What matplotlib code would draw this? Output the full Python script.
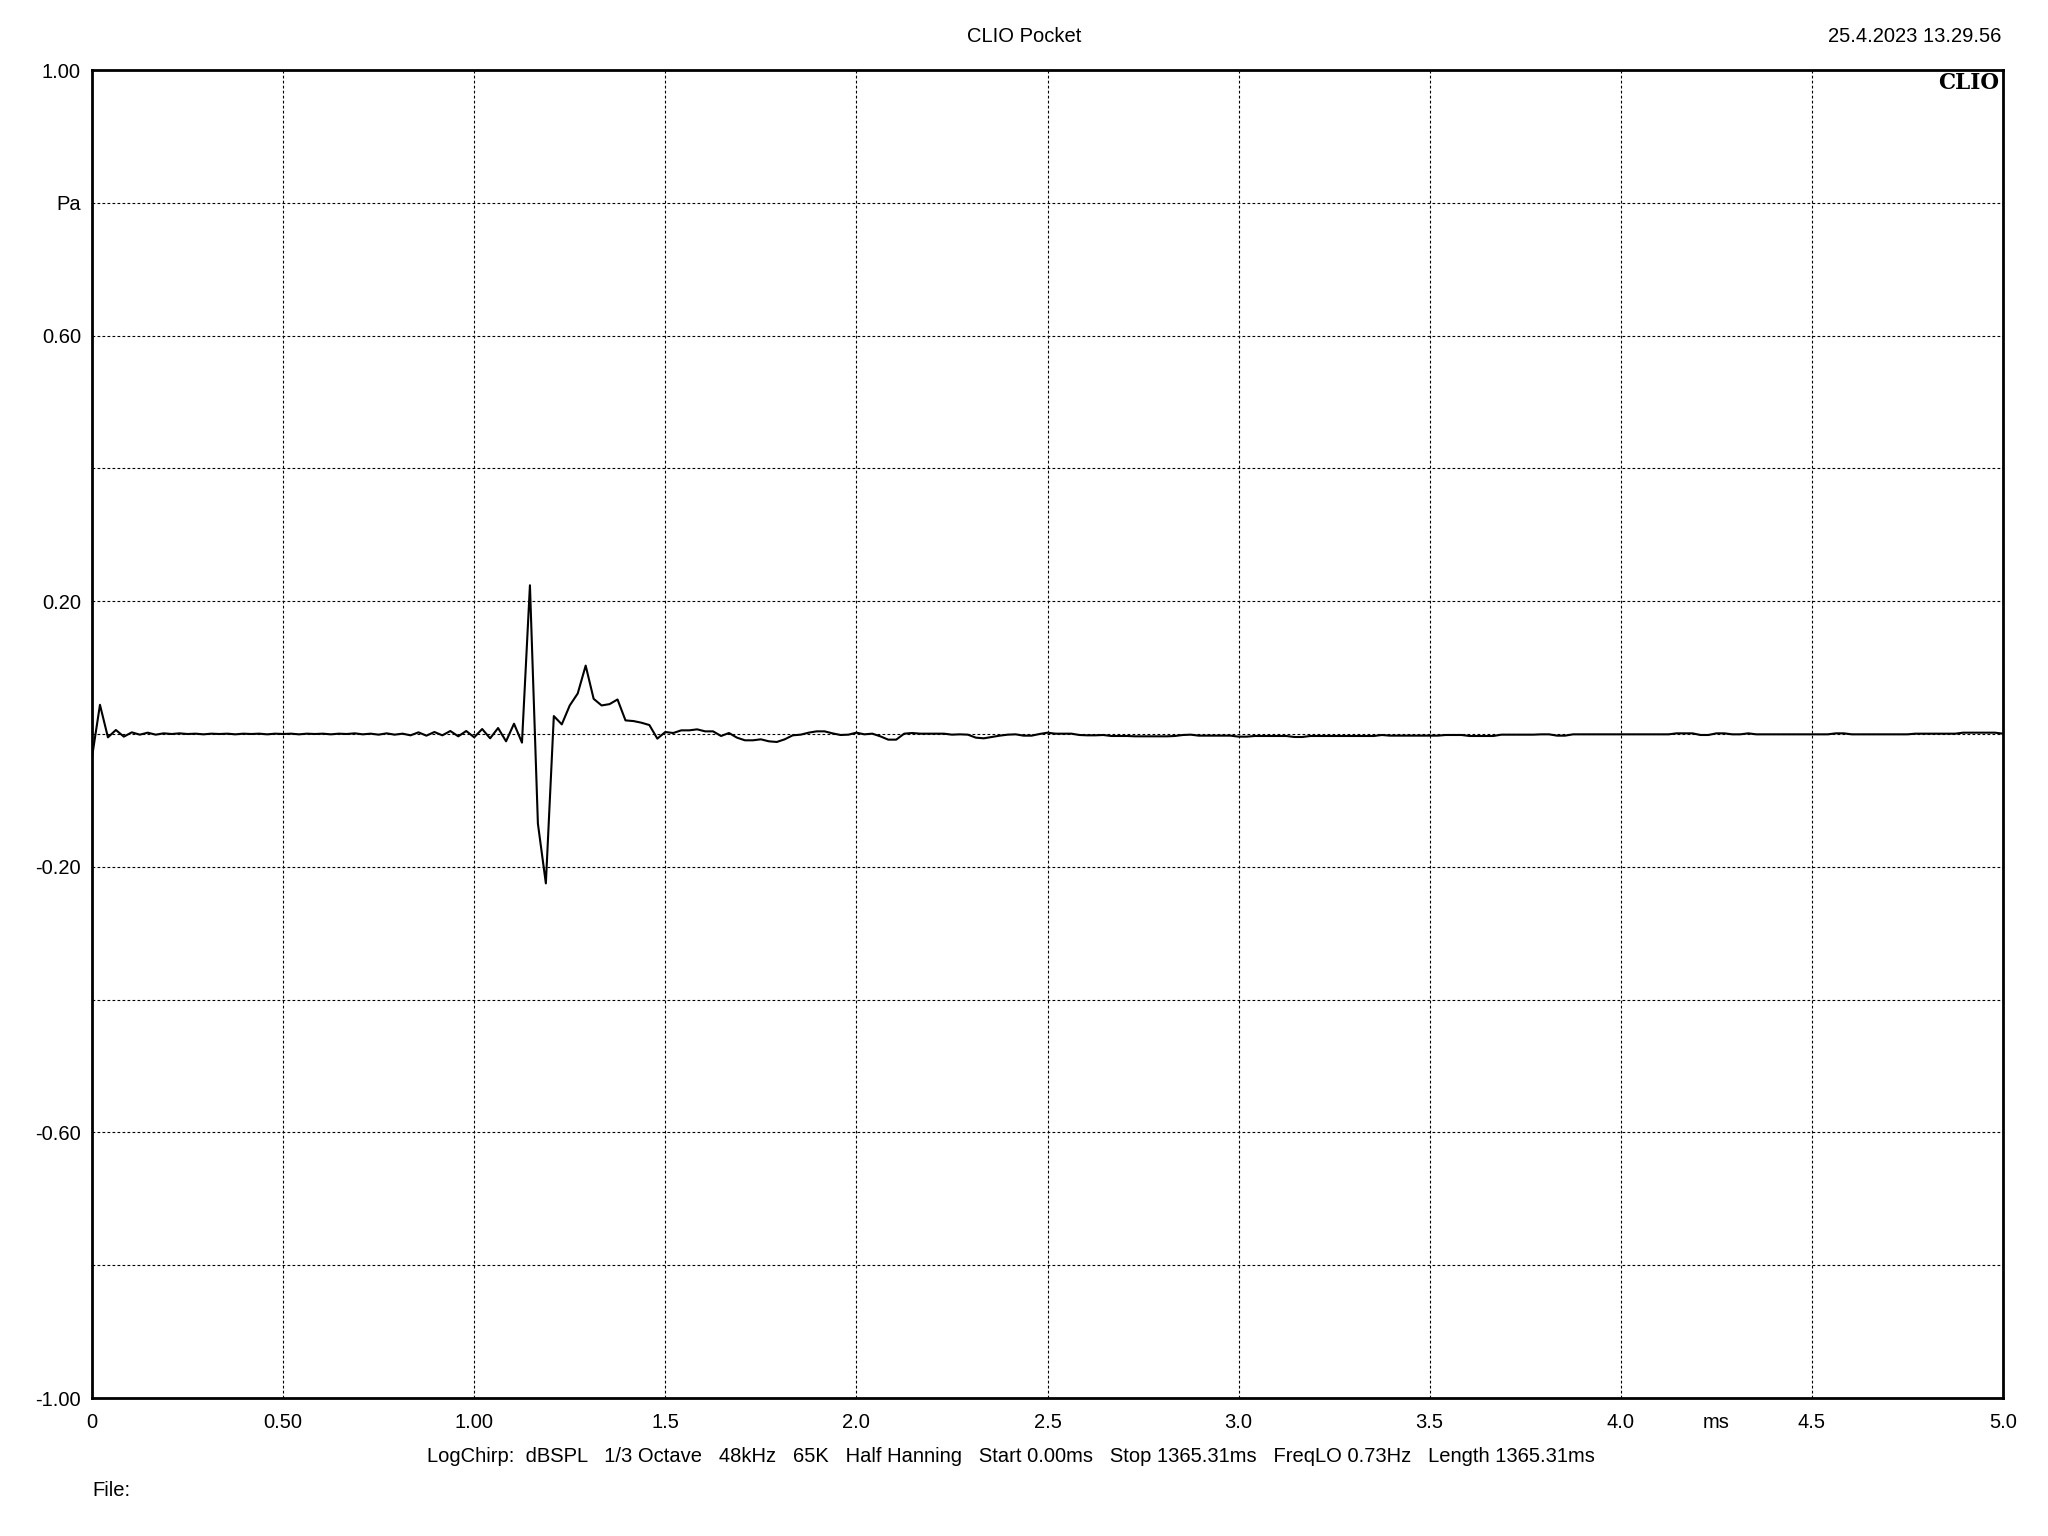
import numpy as np
import matplotlib
matplotlib.use("Agg")
import matplotlib.pyplot as plt

# impulse response, one value per sample (48 kHz)
sample_rate_khz = 48
pressure_pa = [
    -0.035, 0.044, -0.005, 0.006, -0.004, 0.0025, -0.001, 0.002, -0.001, 0.001,
    0.0, 0.001, 0.0, 0.0005, -0.0005, 0.0005, 0.0, 0.0005, -0.0005, 0.0005,
    0.0, 0.0005, -0.0005, 0.0005, 0.0, 0.0005, -0.0005, 0.0005, 0.0, 0.0005,
    -0.0005, 0.0005, 0.0, 0.001, -0.0005, 0.0005, -0.001, 0.001, -0.001, 0.0005,
    -0.002, 0.0025, -0.0025, 0.003, -0.002, 0.0045, -0.0035, 0.0045, -0.005, 0.0075,
    -0.0065, 0.009, -0.011, 0.0155, -0.013, 0.224, -0.135, -0.225, 0.027, 0.0145,
    0.043, 0.061, 0.103, 0.053, 0.043, 0.045, 0.052, 0.0205, 0.0195, 0.017,
    0.0135, -0.007, 0.003, 0.0015, 0.0055, 0.0055, 0.007, 0.004, 0.004, -0.003,
    0.0015, -0.0055, -0.0095, -0.0095, -0.008, -0.011, -0.012, -0.008, -0.002, -0.001,
    0.002, 0.004, 0.004, 0.001, -0.0015, -0.001, 0.002, -0.0005, 0.0005, -0.0035,
    -0.0085, -0.0085, 0.0005, 0.0015, 0.0005, 0.0005, 0.0005, 0.0005, -0.001, -0.0005,
    -0.001, -0.0055, -0.0065, -0.0045, -0.0025, -0.001, -0.0005, -0.0025, -0.0025, 0.0,
    0.002, 0.0005, 0.0005, 0.0005, -0.0015, -0.002, -0.002, -0.0015, -0.003, -0.003,
    -0.003, -0.0035, -0.0035, -0.0035, -0.0035, -0.0035, -0.003, -0.0015, -0.001, -0.0025,
    -0.0025, -0.0025, -0.0025, -0.0025, -0.004, -0.004, -0.003, -0.003, -0.003, -0.003,
    -0.003, -0.0045, -0.0045, -0.003, -0.003, -0.003, -0.003, -0.003, -0.003, -0.003,
    -0.003, -0.003, -0.0015, -0.0025, -0.0025, -0.0025, -0.0025, -0.0025, -0.0025, -0.0025,
    -0.0015, -0.0015, -0.0015, -0.003, -0.003, -0.003, -0.003, -0.001, -0.001, -0.001,
    -0.001, -0.001, -0.0005, -0.0005, -0.0025, -0.0025, -0.0005, -0.0005, -0.0005, -0.0005,
    -0.0005, -0.0005, -0.0005, -0.0005, -0.0005, -0.0005, -0.0005, -0.0005, -0.0005, 0.001,
    0.001, 0.001, -0.0015, -0.0015, 0.001, 0.001, -0.0005, -0.0005, 0.001, -0.0005,
    -0.0005, -0.0005, -0.0005, -0.0005, -0.0005, -0.0005, -0.0005, -0.0005, -0.0005, 0.001,
    0.001, -0.0005, -0.0005, -0.0005, -0.0005, -0.0005, -0.0005, -0.0005, -0.0005, 0.0005,
    0.0005, 0.0005, 0.0005, 0.0005, 0.0005, 0.002, 0.002, 0.002, 0.002, 0.002,
    0.0005,
]

x_ticks = [0, 0.5, 1.0, 1.5, 2.0, 2.5, 3.0, 3.5, 4.0, 4.5, 5.0]
x_labels = ["0", "0.50", "1.00", "1.5", "2.0", "2.5", "3.0", "3.5", "4.0", "4.5", "5.0"]
y_ticks = [-1.0, -0.8, -0.6, -0.4, -0.2, 0.0, 0.2, 0.4, 0.6, 0.8, 1.0]
y_labels = ["-1.00", "", "-0.60", "", "-0.20", "", "0.20", "", "0.60", "Pa", "1.00"]

footer = ("LogChirp:  dBSPL   1/3 Octave   48kHz   65K   Half Hanning   "
          "Start 0.00ms   Stop 1365.31ms   FreqLO 0.73Hz   Length 1365.31ms")

fs = 14.5
plt.rcParams["font.family"] = ["Liberation Sans", "DejaVu Sans"]
plt.rcParams["font.size"] = fs

time_ms = np.arange(len(pressure_pa)) / sample_rate_khz

fig = plt.figure(figsize=(20.48, 15.36), dpi=100)
ax = fig.add_axes([92 / 2048, 1 - 1398 / 1536, (2003 - 92) / 2048, (1398 - 70) / 1536])

ax.plot(time_ms, pressure_pa, color="black", lw=1.5, zorder=3)

ax.set_xlim(0, 5)
ax.set_ylim(-1, 1)
ax.set_xticks(x_ticks)
ax.set_xticklabels(x_labels)
ax.set_yticks(y_ticks)
ax.set_yticklabels(y_labels)
ax.tick_params(axis="x", length=0, pad=11, labelsize=fs)
ax.tick_params(axis="y", length=0, pad=8, labelsize=fs)
ax.grid(True, color="black", lw=0.8, linestyle=(0, (2.5, 2)))
for s in ax.spines.values():
    s.set_linewidth(2)

# unit label sits in the tick-label row between 4.0 and 4.5
ax.annotate("ms", xy=(4.25, 0), xycoords=ax.get_xaxis_transform(),
            xytext=(0, -11), textcoords="offset points",
            ha="center", va="top", fontsize=fs)

ax.text(0.998, 0.9985, "CLIO", transform=ax.transAxes, ha="right", va="top",
        fontsize=15.5, fontweight="bold", family="DejaVu Serif")

fig.text(0.5, 1 - 36 / 1536, "CLIO Pocket", ha="center", va="center", fontsize=fs)
fig.text(2001 / 2048, 1 - 36 / 1536, "25.4.2023 13.29.56", ha="right", va="center", fontsize=fs)
fig.text(1011 / 2048, 1 - 1456 / 1536, footer, ha="center", va="center", fontsize=fs)
fig.text(92 / 2048, 1 - 1490 / 1536, "File:", ha="left", va="center", fontsize=fs)

fig.savefig("out.png", dpi=100)
